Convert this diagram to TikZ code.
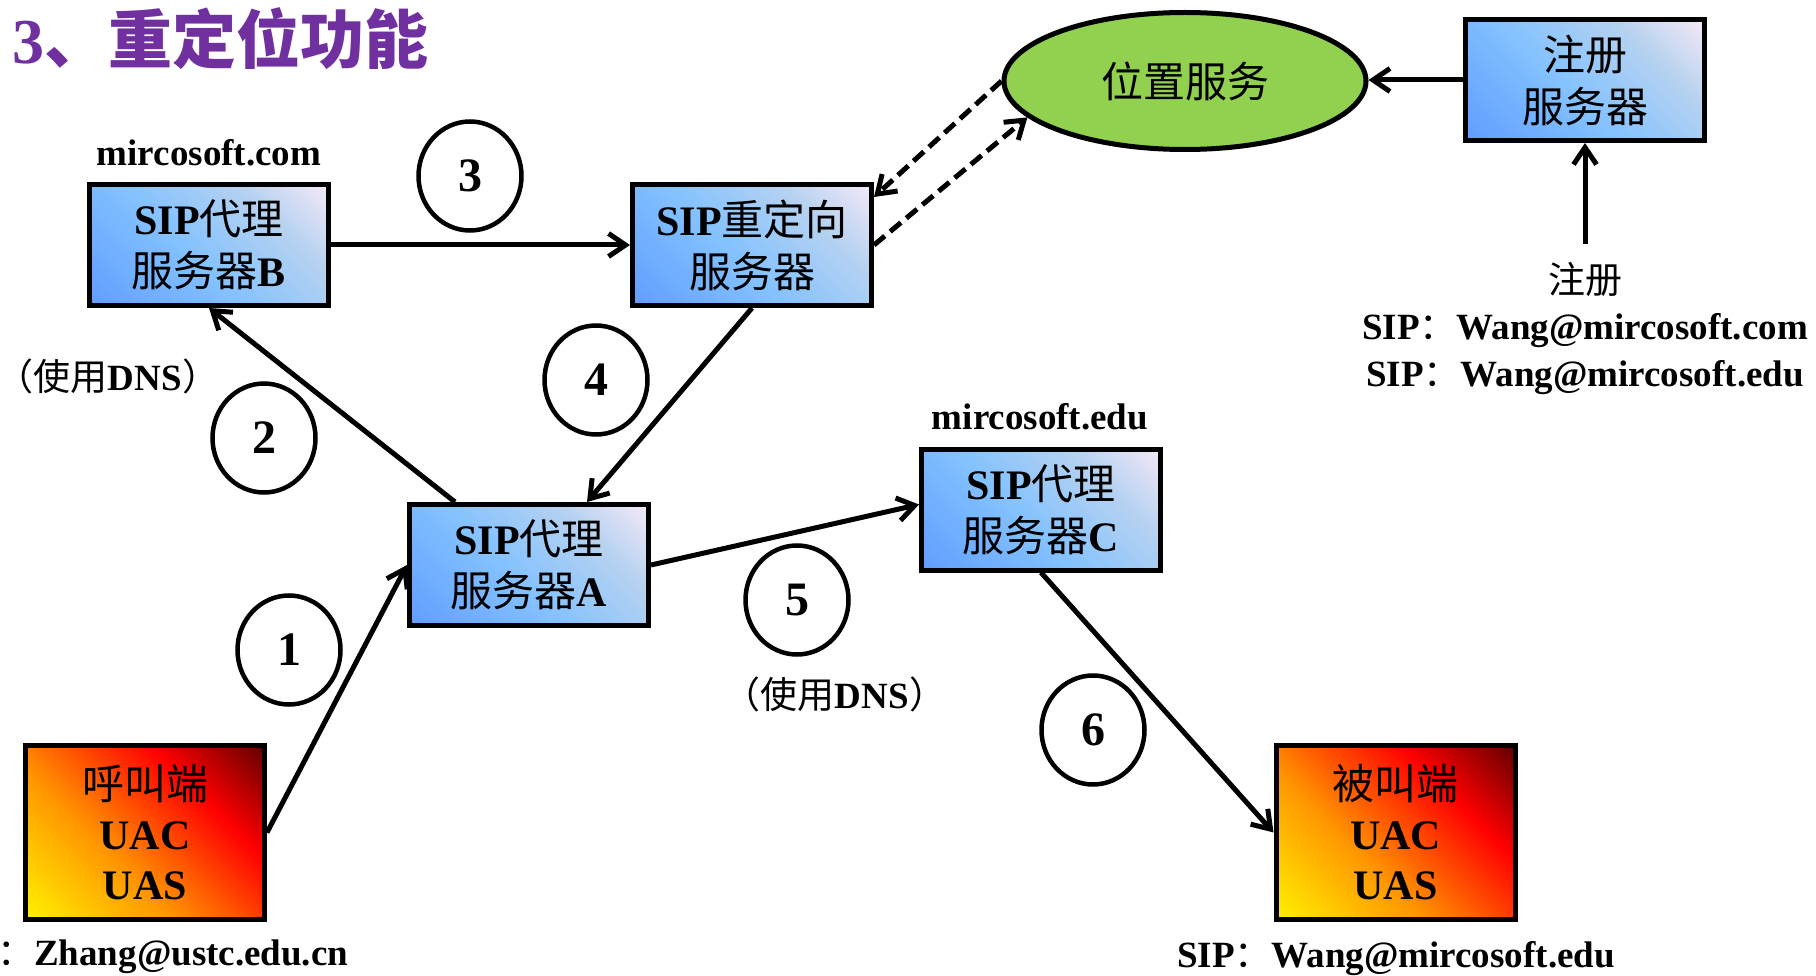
\documentclass[tikz,border=0pt]{standalone}
\usepackage{fontspec}
\setmainfont{Liberation Serif}
\newfontfamily\cjk{Noto Sans CJK SC}
\usetikzlibrary{arrows.meta,shapes.geometric}
\definecolor{b0}{RGB}{96,158,255}
\definecolor{b1}{RGB}{132,194,255}
\definecolor{b2}{RGB}{182,210,240}
\definecolor{b3}{RGB}{244,232,246}
\definecolor{r0}{RGB}{255,240,0}
\definecolor{r1}{RGB}{255,150,0}
\definecolor{r2}{RGB}{255,0,0}
\definecolor{r3}{RGB}{100,0,0}
\definecolor{ttl}{RGB}{112,48,160}
\definecolor{grn}{RGB}{146,208,80}
\pgfdeclarehorizontalshading{blueshade}{100bp}{color(0bp)=(b0); color(15bp)=(b0); color(45bp)=(b1); color(68bp)=(b2); color(85bp)=(b3); color(100bp)=(b3)}
\pgfdeclarehorizontalshading{redshade}{100bp}{color(0bp)=(r0); color(15bp)=(r0); color(40bp)=(r1); color(66bp)=(r2); color(85bp)=(r3); color(100bp)=(r3)}
\newcommand{\zh}[1]{{\cjk\mdseries #1}}
\newcommand{\zhb}[1]{{\cjk\bfseries #1}}
\tikzset{
  bluebox/.style={draw, line width=5pt, shade, shading=blueshade, shading angle=45,
    minimum width=239pt, minimum height=121pt, inner sep=0pt, align=center,
    font=\fontsize{42}{52}\selectfont\bfseries},
  redbox/.style={draw, line width=5pt, shade, shading=redshade, shading angle=45,
    minimum width=239pt, minimum height=174pt, inner sep=0pt, align=center,
    font=\fontsize{42}{50}\selectfont\bfseries},
  numc/.style={ellipse, draw, line width=4.5pt, minimum width=103pt, minimum height=109pt,
    inner sep=0pt, font=\fontsize{48}{52}\selectfont\bfseries},
  lbl/.style={inner sep=0pt, font=\fontsize{37}{45}\selectfont\bfseries},
  conn/.style={line width=5pt, -{Straight Barb[length=17pt,width=23pt]}},
  dashconn/.style={conn, dash pattern=on 14pt off 7pt},
}
\begin{document}
\begin{tikzpicture}[x=1pt,y=-1pt]
\useasboundingbox (0,0) rectangle (1816,976);
% title
\node[anchor=base west, inner sep=0pt, text=ttl, font=\fontsize{64}{70}\selectfont\bfseries] (title) at (12,64) {3\zhb{、重定位功能}};
% boxes
\node[bluebox] (B) at (209,245) {SIP\zh{代理}\\\zh{服务器}B};
\node[bluebox] (rd) at (752,245) {SIP\zh{重定向}\\\zh{服务器}};
\node[bluebox] (reg) at (1585,80) {\zh{注册}\\\zh{服务器}};
\node[bluebox] (A) at (529,565) {SIP\zh{代理}\\\zh{服务器}A};
\node[bluebox] (C) at (1041,509.5) {SIP\zh{代理}\\\zh{服务器}C};
\node[redbox] (caller) at (145,832.5) {\zh{呼叫端}\\UAC\\UAS};
\node[redbox] (callee) at (1395.5,832.5) {\zh{被叫端}\\UAC\\UAS};
\node[ellipse, draw, line width=5pt, fill=grn, minimum width=362pt, minimum height=137pt, inner sep=0pt, font=\fontsize{42}{52}\selectfont] (loc) at (1185,81) {\zh{位置服务}};
% numbers
\node[numc] (n1) at (289,650) {1};
\node[numc] (n2) at (264,438) {2};
\node[numc] (n3) at (470,176) {3};
\node[numc] (n4) at (596,380) {4};
\node[numc] (n5) at (797,600) {5};
\node[numc] (n6) at (1093,730) {6};
% labels
\node[lbl, anchor=base] (mcom) at (209,166) {mircosoft.com};
\node[lbl, anchor=base] (medu) at (1040,429) {mircosoft.edu};
\node[lbl, anchor=base] (regt) at (1585,294) {\zh{注册}};
\node[lbl, anchor=base] (sip1) at (1585,340) {SIP\zh{：}Wang@mircosoft.com};
\node[lbl, anchor=base] (sip2) at (1585,387) {SIP\zh{：}Wang@mircosoft.edu};
\node[lbl, anchor=base] (dns1) at (108,390) {\zh{（使用}DNS\zh{）}};
\node[lbl, anchor=base] (dns2) at (835,708) {\zh{（使用}DNS\zh{）}};
\node[lbl, anchor=base west] (zhang) at (-3,965) {\zh{：}Zhang@ustc.edu.cn};
\node[lbl, anchor=base] (wang) at (1396,967) {SIP\zh{：}Wang@mircosoft.edu};
\coordinate (regstart) at (1585,244);
% connectors
\draw[conn] (caller.east) -- (A.west);
\draw[conn] ([xshift=-74pt]A.north) -- (B.south);
\draw[conn] (B.east) -- (rd.west);
\draw[conn] (rd.south) -- ([xshift=58pt]A.north);
\draw[conn] (A.east) -- ([yshift=5pt]C.west);
\draw[conn] (C.south) -- (callee.west);
\draw[conn] (reg.west) -- (reg.west -| loc.east);
\draw[conn] (regstart) -- (reg.south);
\draw[dashconn] (loc.west) -- ([yshift=48pt]rd.east);
\draw[dashconn] (rd.east) -- (loc.193);
\end{tikzpicture}
\end{document}
